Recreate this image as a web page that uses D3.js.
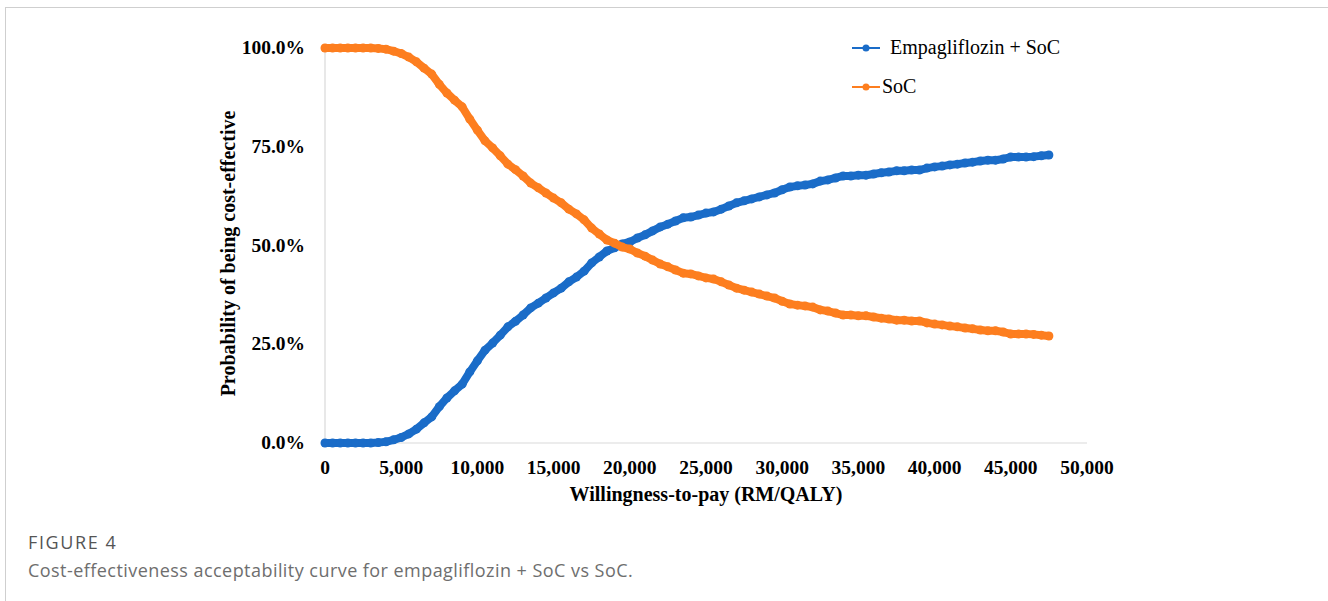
<!DOCTYPE html>
<html>
<head>
<meta charset="utf-8">
<script src="https://cdn.jsdelivr.net/npm/d3@7"></script>
<style>
  body { margin: 0; background: #fff; }
  .tick-label { font-family: "Liberation Serif", "Times New Roman", serif; font-weight: bold; font-size: 19.5px; fill: #000; }
  .axis-title { font-family: "Liberation Serif", "Times New Roman", serif; font-weight: bold; font-size: 20px; fill: #000; }
  .legend-label { font-family: "Liberation Serif", "Times New Roman", serif; font-size: 20px; fill: #000; }
  .caption { font-family: "Open Sans", "Noto Sans", sans-serif; }
</style>
</head>
<body>
<div id="chart"></div>
<script>
// willingness-to-pay steps (RM/QALY)
const wtp = [
  0, 500, 1000, 1500, 2000, 2500, 3000, 3500, 4000, 4500,
  5000, 5500, 6000, 6500, 7000, 7500, 8000, 8500, 9000, 9500,
  10000, 10500, 11000, 11500, 12000, 12500, 13000, 13500, 14000, 14500,
  15000, 15500, 16000, 16500, 17000, 17500, 18000, 18500, 19000, 19500,
  20000, 20500, 21000, 21500, 22000, 22500, 23000, 23500, 24000, 24500,
  25000, 25500, 26000, 26500, 27000, 27500, 28000, 28500, 29000, 29500,
  30000, 30500, 31000, 31500, 32000, 32500, 33000, 33500, 34000, 34500,
  35000, 35500, 36000, 36500, 37000, 37500, 38000, 38500, 39000, 39500,
  40000, 40500, 41000, 41500, 42000, 42500, 43000, 43500, 44000, 44500,
  45000, 45500, 46000, 46500, 47000, 47500
];

// probability of being cost-effective (%)
const empaSoc = [
  0, 0, 0, 0, 0, 0, 0, 0.1, 0.3, 0.8,
  1.4, 2.3, 3.5, 5.1, 6.6, 9.2, 11.4, 13.2, 14.9, 18.0,
  20.8, 23.5, 25.3, 27.3, 29.4, 30.8, 32.4, 34.2, 35.4, 36.7,
  38.0, 39.2, 40.8, 42.0, 43.5, 45.6, 47.1, 48.6, 49.4, 50.4,
  50.9, 51.9, 52.7, 53.7, 54.7, 55.4, 56.2, 57.0, 57.2, 57.7,
  58.2, 58.5, 59.2, 60.0, 60.8, 61.3, 61.8, 62.3, 62.8, 63.3,
  64.1, 64.8, 65.1, 65.3, 65.6, 66.3, 66.6, 67.1, 67.6, 67.6,
  67.8, 67.8, 68.1, 68.4, 68.6, 68.9, 68.9, 69.1, 69.1, 69.6,
  69.9, 70.1, 70.4, 70.6, 70.9, 71.1, 71.4, 71.6, 71.6, 71.9,
  72.4, 72.4, 72.4, 72.5, 72.7, 72.9
];

const soc = [
  100, 100, 100, 100, 100, 100, 100, 99.9, 99.7, 99.2,
  98.6, 97.7, 96.5, 94.9, 93.4, 90.8, 88.6, 86.8, 85.1, 82.0,
  79.2, 76.5, 74.7, 72.7, 70.6, 69.2, 67.6, 65.8, 64.6, 63.3,
  62.0, 60.8, 59.2, 58.0, 56.5, 54.4, 52.9, 51.4, 50.6, 49.6,
  49.1, 48.1, 47.3, 46.3, 45.3, 44.6, 43.8, 43.0, 42.8, 42.3,
  41.8, 41.5, 40.8, 40.0, 39.2, 38.7, 38.2, 37.7, 37.2, 36.7,
  35.9, 35.2, 34.9, 34.7, 34.4, 33.7, 33.4, 32.9, 32.4, 32.4,
  32.2, 32.2, 31.9, 31.6, 31.4, 31.1, 31.1, 30.9, 30.9, 30.4,
  30.1, 29.9, 29.6, 29.4, 29.1, 28.9, 28.6, 28.4, 28.4, 28.1,
  27.6, 27.6, 27.6, 27.5, 27.3, 27.1
];

const xTicks = [0, 5000, 10000, 15000, 20000, 25000, 30000, 35000, 40000, 45000, 50000];
const yTicks = [0, 25, 50, 75, 100];

const seriesNames = ["Empagliflozin + SoC", "SoC"];
const seriesColors = ["#1a6cc8", "#fd7e1f"];

const W = 1328, H = 601;
const margin = { top: 48, right: 241, bottom: 158, left: 325 };

const svg = d3.select("#chart").append("svg")
  .attr("width", W)
  .attr("height", H);

// figure frame
svg.append("rect")
  .attr("x", 5.5).attr("y", 7.5)
  .attr("width", W + 20).attr("height", H + 20)
  .attr("fill", "none")
  .attr("stroke", "#cfcfcf");

const x = d3.scaleLinear()
  .domain([0, 50000])
  .range([margin.left, W - margin.right]);

const y = d3.scaleLinear()
  .domain([0, 100])
  .range([H - margin.bottom, margin.top]);

// axis lines
svg.append("line")
  .attr("x1", x(0)).attr("x2", x(0))
  .attr("y1", y(100)).attr("y2", y(0))
  .attr("stroke", "#d9d9d9").attr("stroke-width", 1.2);

svg.append("line")
  .attr("x1", x(0)).attr("x2", x(50000))
  .attr("y1", y(0)).attr("y2", y(0))
  .attr("stroke", "#d9d9d9").attr("stroke-width", 1.2);

// tick labels
svg.append("g").selectAll("text")
  .data(yTicks)
  .enter().append("text")
  .attr("class", "tick-label")
  .attr("x", x(0) - 20)
  .attr("y", d => y(d) + 6)
  .attr("text-anchor", "end")
  .text(d => d.toFixed(1) + "%");

svg.append("g").selectAll("text")
  .data(xTicks)
  .enter().append("text")
  .attr("class", "tick-label")
  .attr("x", d => x(d))
  .attr("y", y(0) + 31)
  .attr("text-anchor", "middle")
  .text(d => d3.format(",")(d));

// axis titles
svg.append("text")
  .attr("class", "axis-title")
  .attr("x", (x(0) + x(50000)) / 2)
  .attr("y", y(0) + 58)
  .attr("text-anchor", "middle")
  .text("Willingness-to-pay (RM/QALY)");

svg.append("text")
  .attr("class", "axis-title")
  .attr("transform", "translate(235," + (y(50) + 8) + ") rotate(-90)")
  .attr("text-anchor", "middle")
  .text("Probability of being cost-effective");

// series: dense markers drawn over a thick joining line
const series = [empaSoc, soc];
series.forEach(function(vals, i) {
  const pts = wtp.map(function(w, j) { return [w, vals[j]]; });
  svg.append("path")
    .datum(pts)
    .attr("fill", "none")
    .attr("stroke", seriesColors[i])
    .attr("stroke-width", 8)
    .attr("stroke-linejoin", "round")
    .attr("stroke-linecap", "round")
    .attr("d", d3.line().x(d => x(d[0])).y(d => y(d[1])));
  svg.append("g").selectAll("circle")
    .data(pts)
    .enter().append("circle")
    .attr("cx", d => x(d[0]))
    .attr("cy", d => y(d[1]))
    .attr("r", 4.5)
    .attr("fill", seriesColors[i]);
});

// legend
const legendX = 852, legendY = [48, 87], legendTextX = [890, 882];
seriesNames.forEach(function(name, i) {
  const g = svg.append("g");
  g.append("line")
    .attr("x1", legendX).attr("x2", legendX + 28)
    .attr("y1", legendY[i]).attr("y2", legendY[i])
    .attr("stroke", seriesColors[i]).attr("stroke-width", 2);
  g.append("circle")
    .attr("cx", legendX + 14).attr("cy", legendY[i])
    .attr("r", 3.5).attr("fill", seriesColors[i]);
  g.append("text")
    .attr("class", "legend-label")
    .attr("x", legendTextX[i])
    .attr("y", legendY[i] + 6)
    .text(name);
});

// caption
svg.append("text")
  .attr("class", "caption")
  .attr("x", 28).attr("y", 549)
  .attr("font-size", 18)
  .attr("letter-spacing", "1.6px")
  .attr("fill", "#555")
  .text("FIGURE 4");

svg.append("text")
  .attr("class", "caption")
  .attr("x", 28).attr("y", 577)
  .attr("font-size", 18)
  .attr("letter-spacing", "0.45px")
  .attr("fill", "#6e6e6e")
  .text("Cost-effectiveness acceptability curve for empagliflozin + SoC vs SoC.");
</script>
</body>
</html>
